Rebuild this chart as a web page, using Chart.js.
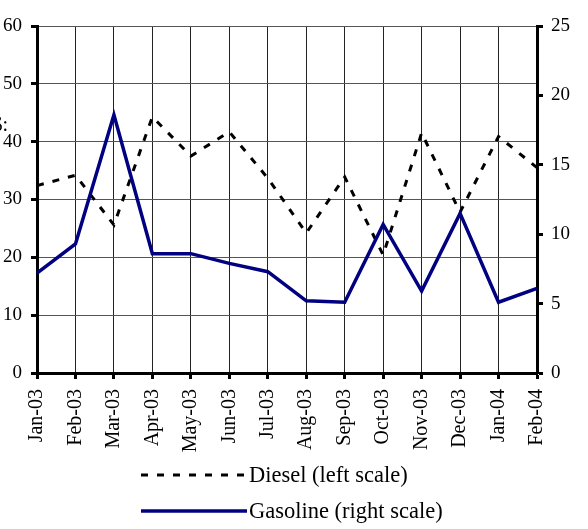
<!DOCTYPE html>
<html>
<head>
<meta charset="utf-8">
<script src="https://cdn.jsdelivr.net/npm/chart.js@4/dist/chart.umd.min.js"></script>
<style>
  html, body { margin: 0; padding: 0; background: #fff; }
  #wrap { position: relative; width: 588px; height: 529px; }
</style>
</head>
<body>
<div id="wrap"><canvas id="fuelChart"></canvas></div>
<script>
const months = ['Jan-03', 'Feb-03', 'Mar-03', 'Apr-03', 'May-03', 'Jun-03', 'Jul-03',
  'Aug-03', 'Sep-03', 'Oct-03', 'Nov-03', 'Dec-03', 'Jan-04', 'Feb-04'];
const diesel = [32.4, 34.2, 25.6, 44.3, 37.5, 41.7, 33.7, 24.2, 33.9, 20.4, 41.5, 27.8, 40.9, 35.5];
const gasoline = [7.2, 9.3, 18.6, 8.6, 8.6, 7.9, 7.3, 5.2, 5.1, 10.7, 5.9, 11.5, 5.1, 6.1];
const leftTicks = [0, 60, 10];
const rightTicks = [0, 25, 5];

const serif = "'Liberation Serif', 'DejaVu Serif', serif";

// legend drawn under the axis, one row per dataset
const bottomLegend = {
  id: 'bottomLegend',
  afterDraw(chart) {
    const ctx = chart.ctx;
    const rows = [475, 511];
    ctx.save();
    chart.data.datasets.forEach((ds, i) => {
      const y = rows[i];
      ctx.beginPath();
      ctx.strokeStyle = ds.borderColor;
      ctx.lineWidth = ds.borderWidth;
      ctx.setLineDash(ds.borderDash || []);
      ctx.moveTo(141, y);
      ctx.lineTo(247, y);
      ctx.stroke();
      ctx.setLineDash([]);
      ctx.fillStyle = '#000';
      ctx.font = '22.5px ' + serif;
      ctx.textBaseline = 'middle';
      ctx.textAlign = 'left';
      ctx.fillText(ds.label, 249, y + 1);
    });
    // cut off axis caption at the very left edge
    ctx.font = '20px ' + serif;
    ctx.textAlign = 'right';
    ctx.fillText('US$:', 8, 126);
    ctx.restore();
  }
};

new Chart(document.getElementById('fuelChart'), {
  type: 'line',
  data: {
    labels: months,
    datasets: [
      {
        label: 'Diesel (left scale)',
        data: diesel,
        yAxisID: 'y',
        borderColor: '#000',
        borderWidth: 3,
        borderDash: [7, 9],
        pointRadius: 0,
        tension: 0,
        fill: false,
        order: 1
      },
      {
        label: 'Gasoline (right scale)',
        data: gasoline,
        yAxisID: 'y1',
        borderColor: '#000080',
        borderWidth: 3.5,
        pointRadius: 0,
        tension: 0,
        fill: false,
        order: 0
      }
    ]
  },
  options: {
    responsive: true,
    maintainAspectRatio: false,
    animation: false,
    layout: { padding: { top: 26, left: 0, right: 0, bottom: 0 } },
    plugins: { legend: { display: false }, tooltip: { enabled: false } },
    scales: {
      x: {
        offset: false,
        afterFit: s => { s.height = 156; },
        grid: { color: '#222', lineWidth: 1, tickLength: 6, tickWidth: 3, tickColor: '#000' },
        border: { display: true, color: '#000', width: 3 },
        ticks: {
          color: '#000', font: { family: serif, size: 20 },
          minRotation: 90, maxRotation: 90, autoSkip: false, padding: 10
        }
      },
      y: {
        position: 'left',
        min: leftTicks[0], max: leftTicks[1],
        afterFit: s => { s.width = 37; },
        grid: { color: '#555', lineWidth: 1, tickLength: 6, tickWidth: 3, tickColor: '#000' },
        border: { display: true, color: '#000', width: 3 },
        ticks: { stepSize: leftTicks[2], color: '#000', font: { family: serif, size: 19 }, padding: 9 }
      },
      y1: {
        position: 'right',
        min: rightTicks[0], max: rightTicks[1],
        afterFit: s => { s.width = 51; },
        grid: { drawOnChartArea: false, tickLength: 6, tickWidth: 3, tickColor: '#000' },
        border: { display: true, color: '#000', width: 3 },
        ticks: { stepSize: rightTicks[2], color: '#000', font: { family: serif, size: 19 }, padding: 8 }
      }
    }
  },
  plugins: [bottomLegend]
});
</script>
</body>
</html>
